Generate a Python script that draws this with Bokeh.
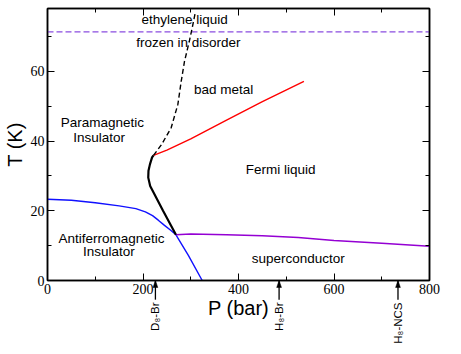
import math
from bokeh.plotting import figure
from bokeh.models import Range1d, LinearAxis, FixedTicker, ColumnDataSource
from bokeh.embed import file_html
from bokeh.resources import INLINE
from bokeh.core.properties import value

# --- data ---
afm_P = [0, 50, 100, 150, 185, 205, 220, 232, 245, 258, 269, 295, 324]
afm_T = [23.3, 23.0, 22.3, 21.4, 20.6, 19.7, 18.6, 17.3, 15.8, 14.4, 13.1, 7.2, 0.0]

mott_P = [269, 242, 215, 211, 211.5, 214.5, 219, 222]
mott_T = [13.1, 20.0, 27.1, 29.5, 31.5, 33.3, 35.3, 35.9]

mott_dash_P = [222, 239, 259, 273, 280, 287, 297, 303, 309]
mott_dash_T = [35.9, 39.0, 43.8, 50.5, 57.1, 62.9, 68.6, 72.4, 76.5]

badmetal_P = [222, 250, 300, 375, 450, 537]
badmetal_T = [35.9, 37.4, 40.6, 46.0, 51.3, 57.1]

sc_P = [269, 300, 375, 450, 525, 600, 700, 800]
sc_T = [13.1, 13.3, 13.1, 12.8, 12.3, 11.5, 10.7, 9.8]

ethylene_T = 71.3
ethylene_P = [0, 800]

region_text = ["ethylene liquid", "frozen in disorder", "bad metal", "Paramagnetic",
               "Insulator", "Fermi liquid", "Antiferromagnetic", "Insulator", "superconductor"]
region_P = [287, 295, 369, 115, 108, 488, 134, 128.5, 525]
region_T = [74.8, 68.3, 54.7, 45.2, 41.1, 31.9, 12.1, 8.3, 6.3]

marker_text = ["D\u2088-Br", "H\u2088-Br", "H\u2088-NCS"]
marker_P = [226, 485, 734]
marker_T_end = [-5.5, -5.5, -5.5]

x_major = [0, 200, 400, 600, 800]
x_minor = [100, 300, 500, 700]
y_major = [0, 20, 40, 60]
y_minor = [10, 30, 50, 70]

p = figure(width=445, height=346, x_range=Range1d(0, 800), y_range=Range1d(0, 78),
           output_backend="svg", toolbar_location=None,
           x_axis_location=None, y_axis_location=None,
           min_border_left=39, min_border_right=16, min_border_top=8, min_border_bottom=66)
p.grid.visible = False
p.outline_line_color = "black"
p.outline_line_width = 1.5
p.background_fill_color = "white"
p.border_fill_color = "white"

bottom = LinearAxis(axis_label="P (bar)", ticker=FixedTicker(ticks=x_major, minor_ticks=x_minor))
left = LinearAxis(axis_label="T (K)", ticker=FixedTicker(ticks=y_major, minor_ticks=y_minor))
top = LinearAxis(ticker=FixedTicker(ticks=x_major, minor_ticks=x_minor))
right = LinearAxis(ticker=FixedTicker(ticks=y_major, minor_ticks=y_minor))

for ax in [bottom, left, top, right]:
    ax.major_tick_in = 7
    ax.major_tick_out = 0
    ax.minor_tick_in = 4
    ax.minor_tick_out = 0
    ax.axis_line_width = 1.5
    ax.axis_line_color = "black"
    ax.major_tick_line_color = "black"
    ax.minor_tick_line_color = "black"
    ax.major_tick_line_width = 1
    ax.minor_tick_line_width = 1
    ax.major_label_text_font = "Liberation Serif"
    ax.major_label_text_font_size = "14px"
    ax.major_label_text_color = "black"
    ax.major_label_standoff = 3
    ax.axis_label_text_font = "Liberation Sans"
    ax.axis_label_text_font_size = "20px"
    ax.axis_label_text_font_style = "normal"
    ax.axis_label_text_color = "black"
    ax.axis_label_standoff = 2
bottom.axis_label_standoff = 0

top.major_label_overrides = {t: "" for t in x_major}
right.major_label_overrides = {t: "" for t in y_major}
for ax in [top, right]:
    ax.major_label_text_font_size = "1px"
    ax.major_label_text_alpha = 0
    ax.major_label_standoff = 0

p.add_layout(bottom, "below")
p.add_layout(left, "left")
p.add_layout(top, "above")
p.add_layout(right, "right")

# lines
p.line(ethylene_P, [ethylene_T, ethylene_T], line_color="#8a4de0", line_width=1.3, line_dash="6 3")
p.line(afm_P, afm_T, line_color="#1010ff", line_width=1.4)
p.line(sc_P, sc_T, line_color="#9400d3", line_width=1.5)
p.line(badmetal_P, badmetal_T, line_color="#ff0000", line_width=1.4)
p.line(mott_P, mott_T, line_color="black", line_width=2.2)
p.line(mott_dash_P, mott_dash_T, line_color="black", line_width=1.4, line_dash="5 3")

src = ColumnDataSource(dict(x=region_P, y=region_T, t=region_text))
p.text(x="x", y="y", text="t", source=src, text_font=value("Liberation Sans"),
       text_font_size="13.5px", text_align="center", text_baseline="middle", text_color="black")

# sample markers below the pressure axis (drawn at overlay level, outside the frame clip)
msrc = ColumnDataSource(dict(x=marker_P, y0=[0] * len(marker_P), y1=marker_T_end, t=marker_text,
                             hx=[[x - 5, x, x + 5] for x in marker_P],
                             hy=[[-2.0, 0, -2.0] for _ in marker_P]))
p.segment(x0="x", y0="y0", x1="x", y1="y1", source=msrc, line_color="black",
          line_width=1.3, level="overlay")
p.patches(xs="hx", ys="hy", source=msrc, fill_color="black", line_color="black",
          line_width=0.5, level="overlay")
p.text(x="x", y="y0", text="t", source=msrc, angle=math.pi / 2, y_offset=22,
       text_align="right", text_baseline="middle", text_font=value("Liberation Sans"),
       text_font_size="11.5px", text_color="black", level="overlay")

open("out.html", "w").write(file_html(p, INLINE))
